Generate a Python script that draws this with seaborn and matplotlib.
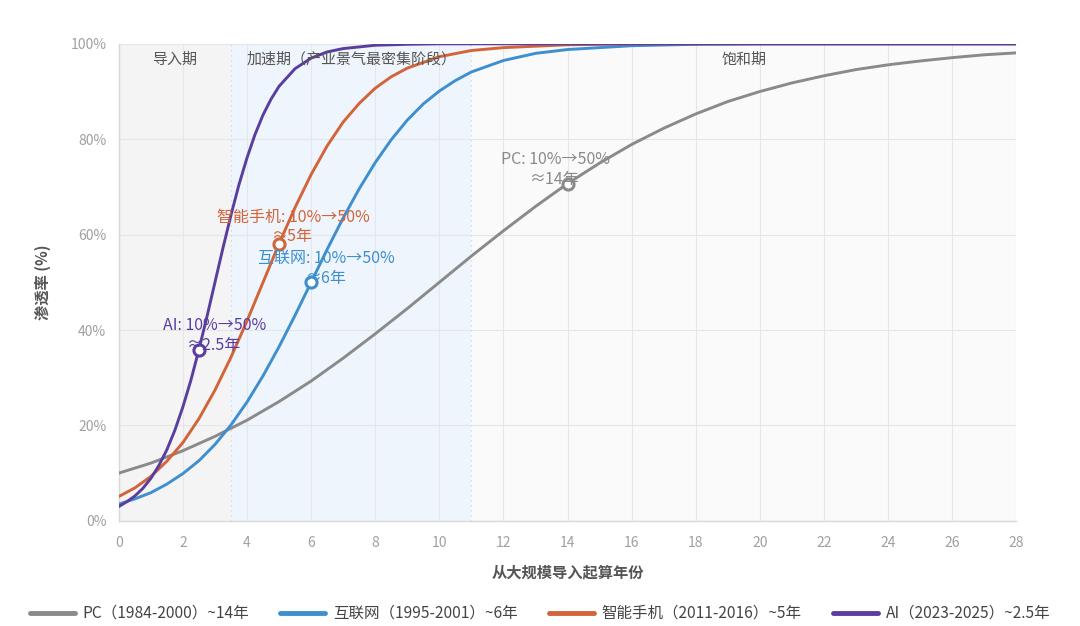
import pandas as pd
import seaborn as sns
import matplotlib
matplotlib.use('Agg')
from matplotlib import pyplot as plt
from matplotlib.lines import Line2D

# values (years since mass adoption, penetration %)
pc_years = [0, 1, 2, 3, 4, 5, 6, 7, 8, 9, 10, 11, 12, 13, 14, 15, 16, 17, 18, 19,
            20, 21, 22, 23, 24, 25, 26, 27, 28]
pc_pct = [10.0, 12.1, 14.7, 17.7, 21.1, 25.0, 29.3, 34.1, 39.2, 44.5, 50.0, 55.5,
          60.8, 65.9, 70.7, 75.0, 78.9, 82.3, 85.3, 87.9, 90.0, 91.8, 93.3, 94.6,
          95.6, 96.4, 97.1, 97.7, 98.1]

web_years = [0, 0.5, 1, 1.5, 2, 2.5, 3, 3.5, 4, 4.5, 5, 5.5, 6, 6.5, 7, 7.5, 8,
             8.5, 9, 9.5, 10, 10.5, 11, 12, 13, 14, 16, 18, 20, 24, 28]
web_pct = [3.5, 4.6, 5.9, 7.7, 9.9, 12.6, 16.0, 20.1, 24.9, 30.4, 36.5, 43.1, 50.0,
           56.9, 63.5, 69.6, 75.1, 79.9, 84.0, 87.4, 90.1, 92.3, 94.1, 96.5, 98.0,
           98.8, 99.6, 99.9, 100, 100, 100]

phone_years = [0, 0.5, 1, 1.5, 2, 2.5, 3, 3.5, 4, 4.5, 5, 5.5, 6, 6.5, 7, 7.5, 8,
               8.5, 9, 10, 11, 12, 14, 16, 20, 24, 28]
phone_pct = [5.1, 6.9, 9.3, 12.5, 16.4, 21.4, 27.4, 34.3, 41.9, 50.0, 58.1, 65.7,
             72.6, 78.6, 83.6, 87.5, 90.7, 93.1, 94.9, 97.3, 98.6, 99.2, 99.8, 100,
             100, 100, 100]

ai_years = [0, 0.25, 0.5, 0.75, 1, 1.25, 1.5, 1.75, 2, 2.25, 2.5, 2.75, 3, 3.25,
            3.5, 3.75, 4, 4.25, 4.5, 4.75, 5, 5.5, 6, 6.5, 7, 8, 9, 10, 14, 20, 28]
ai_pct = [3.0, 4.0, 5.2, 6.8, 8.9, 11.6, 14.9, 19.0, 23.9, 29.5, 35.9, 42.8, 50.0,
          57.2, 64.1, 70.5, 76.1, 81.0, 85.1, 88.4, 91.1, 94.8, 97.0, 98.3, 99.0,
          99.7, 99.9, 100, 100, 100, 100]

series_names = ['PC（1984-2000）~14年', '互联网（1995-2001）~6年',
                '智能手机（2011-2016）~5年', 'AI（2023-2025）~2.5年']
series_colors = ['#8a8a8a', '#3d8fcf', '#d2643a', '#5a3e9e']

marker_years = [14, 6, 5, 2.5]
marker_pct = [70.7, 50.0, 58.1, 35.9]
marker_labels = ['PC: 10%→50%\n≈14年', '互联网: 10%→50%\n≈6年',
                 '智能手机: 10%→50%\n≈5年', 'AI: 10%→50%\n≈2.5年']
label_offsets = [(-9, 10), (11, 10), (10, 12), (11, 10)]

phase_names = ['导入期', '加速期（产业景气最密集阶段）', '饱和期']
phase_bounds = [0, 3.5, 11, 28]
phase_colors = ['#f4f4f5', '#eff5fc', '#fafafa']

frames = []
for name, yrs, vals in zip(series_names,
                           [pc_years, web_years, phone_years, ai_years],
                           [pc_pct, web_pct, phone_pct, ai_pct]):
    frames.append(pd.DataFrame({'year': yrs, 'pct': vals, 'series': name}))
df = pd.concat(frames, ignore_index=True)

sns.set_theme(style='white')
plt.rcParams['font.family'] = ['Noto Sans CJK SC', 'DejaVu Sans']

fig = plt.figure(figsize=(10.8, 6.26), dpi=100)
ax = fig.add_axes([0.110, 0.168, 0.831, 0.762])

# phase shading
for i in range(3):
    ax.axvspan(phase_bounds[i], phase_bounds[i + 1], color=phase_colors[i], lw=0, zorder=0)
    ax.text((phase_bounds[i] + phase_bounds[i + 1]) / 2, 96.7, phase_names[i],
            ha='center', va='center', fontsize=10.8, color='#555555', zorder=5)
for b in phase_bounds[1:3]:
    ax.axvline(b, color='#cfd6de', lw=0.9, ls=(0, (1, 3)), zorder=1)

sns.lineplot(data=df, x='year', y='pct', hue='series', palette=series_colors,
             hue_order=series_names, linewidth=2.1, ax=ax, legend=False, zorder=3)

for yr, p, lab, col, off in zip(marker_years, marker_pct, marker_labels,
                                series_colors, label_offsets):
    ax.plot(yr, p, marker='o', ms=8, mfc='white', mec=col, mew=2.2, zorder=4)
    ax.annotate(lab, (yr, p), xytext=off, textcoords='offset points',
                ha='center', va='center', fontsize=11.5, color=col,
                linespacing=1.2, zorder=5)

ax.set_xlim(0, 28)
ax.set_ylim(0, 100)
ax.set_xticks(range(0, 29, 2))
ax.set_yticks(range(0, 101, 20))
ax.set_yticklabels([f'{v}%' for v in range(0, 101, 20)])
ax.grid(True, color='#e6e6ea', lw=0.8)
ax.set_axisbelow(True)
for side in ['top', 'right']:
    ax.spines[side].set_visible(False)
for side in ['left', 'bottom']:
    ax.spines[side].set_color('#d8d8d8')
    ax.spines[side].set_linewidth(1)
ax.tick_params(axis='both', colors='#e0e0e0', labelcolor='#a0a0a0', labelsize=10,
               length=5, width=0.8)
ax.tick_params(axis='x', pad=6)
ax.tick_params(axis='y', pad=4)

ax.set_xlabel('从大规模导入起算年份', fontsize=11, color='#555555',
              fontweight='bold', labelpad=10)
ax.set_ylabel('渗透率 (%)', fontsize=11, color='#555555', fontweight='bold',
              labelpad=14)

handles = [Line2D([0], [0], color=c, lw=3.5) for c in series_colors]
fig.legend(handles, series_names, loc='center', bbox_to_anchor=(0.5, 0.02),
           ncol=4, frameon=False, fontsize=11.2, handlelength=2.9,
           columnspacing=2.0, handletextpad=0.5, labelcolor='#444444')

fig.savefig('out.png', dpi=100, facecolor='white')
